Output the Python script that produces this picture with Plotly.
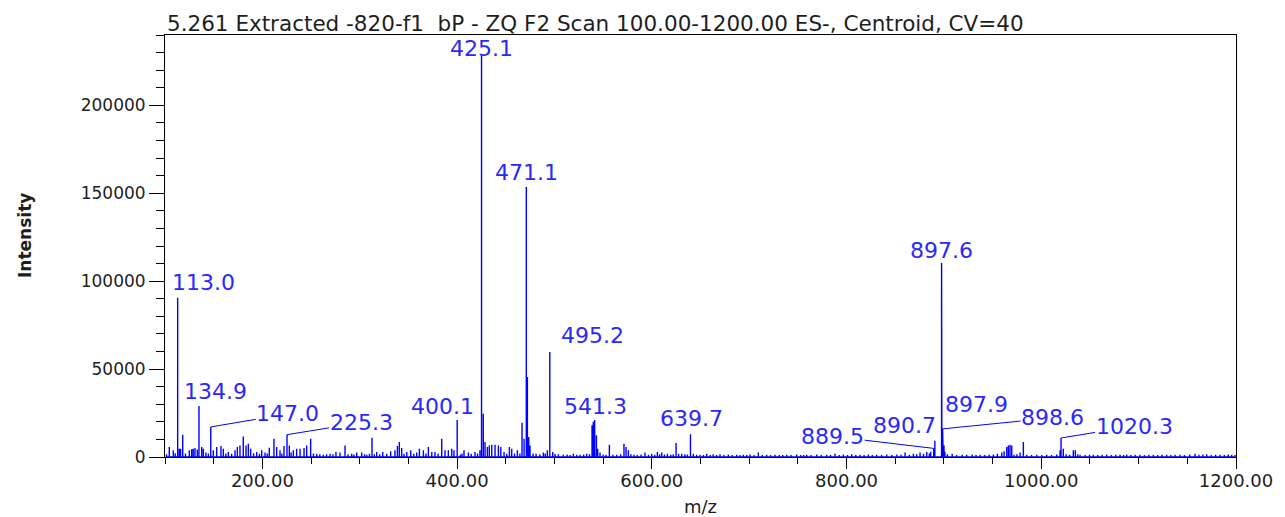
import plotly.graph_objects as go

TITLE = "5.261 Extracted -820-f1\u00a0 bP - ZQ F2 Scan 100.00-1200.00 ES-, Centroid, CV=40"
X_TITLE = "m/z"
Y_TITLE = "Intensity"

X_RANGE = [100, 1200]
Y_RANGE = [0, 240000]

# labelled peaks (m/z, intensity)
PEAK_MZ = [113.0, 134.9, 147.0, 225.3, 400.1, 425.1, 471.1, 495.2, 541.3,
           639.7, 889.5, 890.7, 897.6, 897.9, 898.6, 1020.3]
PEAK_INT = [90600, 29000, 17100, 12700, 21000, 228600, 153600, 59700, 21000,
            12900, 4900, 9300, 110300, 20800, 16000, 10800]

# unlabelled peaks and baseline noise
OTHER_MZ = [
    101.5, 104.4, 108.5, 110.5, 114.7, 116.0, 118.2, 121.0, 125.0, 127.4,
    129.0, 130.8, 133.2, 137.7, 139.4, 142.0, 144.5, 149.6, 153.1, 157.5,
    159.9, 162.5, 165.0, 168.5, 171.9, 174.3, 177.0, 180.4, 183.2, 185.6,
    188.0, 191.0, 194.2, 197.0, 199.3, 202.7, 205.0, 207.1, 211.9, 214.7,
    218.1, 220.0, 222.2, 227.7, 229.5, 231.8, 235.2, 238.7, 242.8, 245.5,
    249.6, 252.5, 255.8, 259.0, 262.6, 266.0, 269.5, 272.5, 275.6, 279.7,
    284.9, 288.0, 291.8, 294.0, 296.9, 302.0, 305.0, 307.2, 310.0, 312.6,
    315.0, 317.4, 320.5, 323.6, 327.7, 331.8, 336.2, 338.7, 340.7, 343.1,
    345.5, 348.3, 352.4, 355.5, 358.5, 361.3, 365.4, 368.0, 370.5, 374.0,
    377.3, 380.5, 384.2, 387.6, 391.0, 394.5, 396.8, 403.4, 405.0, 407.1,
    411.6, 414.5, 418.4, 421.0, 423.5, 426.9, 428.7, 431.1, 433.1, 435.6,
    439.0, 442.4, 444.9, 448.2, 451.0, 453.7, 456.1, 459.0, 461.9, 464.5,
    466.7, 468.8, 472.2, 473.6, 474.9, 478.0, 481.1, 485.0, 488.6, 490.5,
    492.7, 498.2, 500.6, 504.0, 509.1, 513.0, 516.0, 519.4, 523.0, 526.3,
    530.0, 533.1, 536.0, 538.6, 539.9, 543.1, 544.4, 546.8, 550.0, 553.0,
    556.4, 560.0, 564.0, 568.0, 571.4, 573.5, 575.9, 578.5, 581.7, 585.0,
    589.0, 593.0, 596.5, 599.9, 603.0, 605.7, 608.0, 610.2, 613.0, 616.0,
    619.5, 622.0, 624.9, 627.5, 630.7, 634.0, 636.5, 642.6, 646.0, 649.5,
    653.0, 656.4, 660.0, 663.0, 666.5, 670.0, 674.0, 678.6, 682.5, 687.2,
    690.5, 694.0, 697.5, 700.9, 705.0, 709.4, 713.5, 718.0, 722.0, 726.6,
    731.0, 734.5, 738.6, 743.0, 748.8, 753.0, 756.0, 759.1, 763.5, 769.4,
    774.0, 779.6, 783.5, 788.2, 792.5, 796.7, 801.0, 805.3, 809.5, 813.9,
    818.0, 822.4, 826.5, 831.0, 836.0, 841.3, 846.5, 851.6, 856.0, 860.1,
    864.5, 868.6, 872.0, 875.5, 879.0, 882.4, 885.0, 886.5, 899.3, 900.1,
    901.0, 903.5, 908.5, 913.0, 918.8, 923.4, 929.1, 933.0, 937.1, 942.0,
    946.5, 950.8, 954.9, 959.4, 961.8, 964.5, 966.2, 967.9, 969.7, 972.0,
    975.0, 978.2, 981.6, 985.1, 990.0, 995.4, 1000.5, 1005.6, 1010.5, 1015.9,
    1019.3, 1022.6, 1025.5, 1029.0, 1032.9, 1035.0, 1037.5, 1039.8, 1045.0, 1049.5,
    1053.5, 1058.0, 1062.5, 1067.2, 1072.0, 1076.5, 1080.9, 1084.5, 1087.8, 1092.0,
    1096.5, 1101.4, 1106.0, 1110.5, 1115.1, 1119.5, 1124.0, 1128.8, 1133.0, 1137.5,
    1142.5, 1147.0, 1152.5, 1157.9, 1162.0, 1166.0, 1169.9, 1174.5, 1179.0, 1183.6,
    1188.0, 1192.0, 1195.6, 1199.0,
]
OTHER_INT = [
    1500, 5700, 3800, 2200, 4700, 4700, 12700, 2000, 3800, 4400,
    4700, 5100, 4200, 5700, 4700, 2500, 2000, 3800, 5700, 6300,
    4700, 2000, 2800, 1800, 3800, 5700, 6600, 11600, 6600, 7600,
    4700, 2200, 2800, 1800, 3800, 2500, 2000, 5300, 10400, 5700,
    3800, 2000, 6300, 6600, 2500, 3800, 4700, 4700, 5100, 6600,
    10400, 2000, 1900, 1500, 1300, 1600, 1900, 1500, 2800, 2500,
    6600, 1500, 1900, 1400, 2500, 2500, 1500, 1300, 1800, 11000,
    1600, 2800, 1500, 2800, 1900, 3200, 3800, 6300, 8500, 5100,
    1800, 2800, 3800, 1800, 2500, 4700, 3800, 2000, 5700, 2800,
    2800, 2000, 10400, 3800, 3800, 4700, 3800, 1300, 2000, 3800,
    2500, 1800, 2800, 2000, 3800, 24600, 8500, 5700, 6600, 7000,
    7000, 6600, 5700, 2800, 1800, 5700, 4700, 2000, 3800, 2000,
    19500, 10400, 45500, 11400, 6600, 2000, 1900, 1600, 2500, 2000,
    3800, 2800, 1900, 1500, 1300, 1400, 1200, 1900, 1300, 1300,
    1400, 1900, 1500, 18000, 20000, 12300, 4700, 2500, 1400, 1300,
    7000, 1300, 1300, 1500, 7600, 5700, 3800, 1500, 1300, 1200,
    1400, 2500, 1300, 1900, 1300, 2800, 1500, 2500, 1400, 1900,
    1300, 1500, 8000, 1800, 1900, 1500, 1400, 1900, 1300, 1300,
    1200, 1900, 1200, 1500, 1100, 1500, 1200, 1400, 1100, 1300,
    1100, 1300, 1100, 1400, 1200, 2500, 1100, 1300, 1100, 1300,
    1100, 1200, 1300, 1100, 1400, 1100, 1200, 1300, 1100, 1400,
    1200, 1300, 1100, 1900, 1200, 1400, 1100, 1600, 1100, 1300,
    1200, 1400, 1100, 1300, 1200, 1400, 1200, 1400, 1300, 2500,
    1300, 1900, 1500, 2500, 1800, 2800, 2000, 3000, 9500, 6600,
    3000, 1500, 1900, 1200, 1300, 1300, 1400, 1200, 1300, 1200,
    1300, 1400, 1900, 2500, 3200, 5700, 6600, 7000, 6600, 1300,
    1500, 2500, 8500, 1300, 1200, 1300, 1200, 1300, 1200, 1400,
    3800, 4700, 1500, 1300, 3800, 3800, 1500, 1300, 1200, 1300,
    1300, 1200, 1300, 1400, 1200, 1300, 1300, 1200, 1400, 1200,
    1300, 1300, 1200, 1300, 1300, 1200, 1300, 1300, 1200, 1300,
    1300, 1200, 1400, 1900, 1300, 1400, 1500, 1200, 1300, 1300,
    1200, 1400, 1300, 1200,
]

SPEC_COLOUR = 'rgb(0, 0, 255)'
LABEL_COLOUR = 'rgb(40, 40, 255)'
TEXT_COLOUR = 'rgb(30, 30, 30)'
FONT = 'DejaVu Sans'

# label placement in pixels: (dx, dy, leader line)
LABEL_POS = {
    '113.0': (26, 15, False),
    '134.9': (17, 15, False),
    '147.0': (77, -13, True),
    '225.3': (74, -12, True),
    '400.1': (-15, 14, False),
    '425.1': (0, 7, False),
    '471.1': (0, 14, False),
    '495.2': (43, 17, False),
    '541.3': (1, 14, False),
    '639.7': (1, 16, False),
    '889.5': (-101, -12, True),
    '890.7': (-30, 15, False),
    '897.6': (0, 13, False),
    '897.9': (35, 16, False),
    '898.6': (110, -11, True),
    '1020.3': (73, -12, True),
}

peaks = sorted(zip(PEAK_MZ + OTHER_MZ, PEAK_INT + OTHER_INT))
xs, ys = [], []
for mz, inten in peaks:
    xs += [mz, mz, mz]
    ys += [0, inten, 0]

fig = go.Figure()
fig.add_trace(go.Scatter(x=xs, y=ys, mode='lines',
                         line=dict(color=SPEC_COLOUR, width=1.4),
                         hoverinfo='skip', showlegend=False))

annotations = []
for mz, inten in zip(PEAK_MZ, PEAK_INT):
    label = f'{mz:.1f}'
    dx, dy, leader = LABEL_POS[label]
    if leader:
        annotations.append(dict(x=mz, y=inten, text=label, showarrow=True,
                                arrowhead=0, arrowwidth=1, arrowcolor=SPEC_COLOUR,
                                axref='pixel', ayref='pixel', ax=dx, ay=dy,
                                standoff=0, borderpad=0,
                                font=dict(family=FONT, size=22, color=LABEL_COLOUR)))
    else:
        annotations.append(dict(x=mz, y=inten, text=label, showarrow=False,
                                xanchor='center', yanchor='middle',
                                xshift=dx, yshift=dy, borderpad=0,
                                font=dict(family=FONT, size=22, color=LABEL_COLOUR)))

annotations.append(dict(x=0, y=1, xref='paper', yref='paper', text=TITLE,
                        showarrow=False, xanchor='left', yanchor='bottom', yshift=-3,
                        font=dict(family=FONT, size=21.5, color=TEXT_COLOUR)))
annotations.append(dict(x=0, y=0.5, xref='paper', yref='paper', text=Y_TITLE,
                        showarrow=False, textangle=-90, xanchor='center', yanchor='middle',
                        xshift=-140, yshift=10,
                        font=dict(family=FONT, size=17, color=TEXT_COLOUR, weight='bold')))
annotations.append(dict(x=0.5, y=0, xref='paper', yref='paper', text=X_TITLE,
                        showarrow=False, xanchor='center', yanchor='middle', yshift=-49,
                        font=dict(family=FONT, size=18, color=TEXT_COLOUR)))

# the page body adds an 8px margin, so the figure is sized and placed to suit
fig.update_layout(width=1277, height=509,
                  margin=dict(l=157, r=49, t=27, b=60),
                  paper_bgcolor='white', plot_bgcolor='white',
                  annotations=annotations, showlegend=False)
fig.update_xaxes(range=X_RANGE, tick0=0, dtick=200, tickformat='.2f',
                 ticks='outside', ticklen=11, tickcolor='black', tickwidth=1,
                 ticklabelstandoff=-4,
                 minor=dict(dtick=50, ticks='outside', ticklen=6, tickcolor='black'),
                 showline=True, linecolor='black', linewidth=1, mirror=True,
                 showgrid=False, zeroline=False, layer='below traces',
                 tickfont=dict(family=FONT, size=18, color=TEXT_COLOUR))
fig.update_yaxes(range=Y_RANGE, tick0=0, dtick=50000, tickformat='d',
                 ticks='outside', ticklen=15, tickcolor='black', tickwidth=1,
                 minor=dict(dtick=10000, ticks='outside', ticklen=8, tickcolor='black'),
                 showline=True, linecolor='black', linewidth=1, mirror=True,
                 showgrid=False, zeroline=False,
                 tickfont=dict(family=FONT, size=17, color=TEXT_COLOUR))

fig.write_html("out.html")
